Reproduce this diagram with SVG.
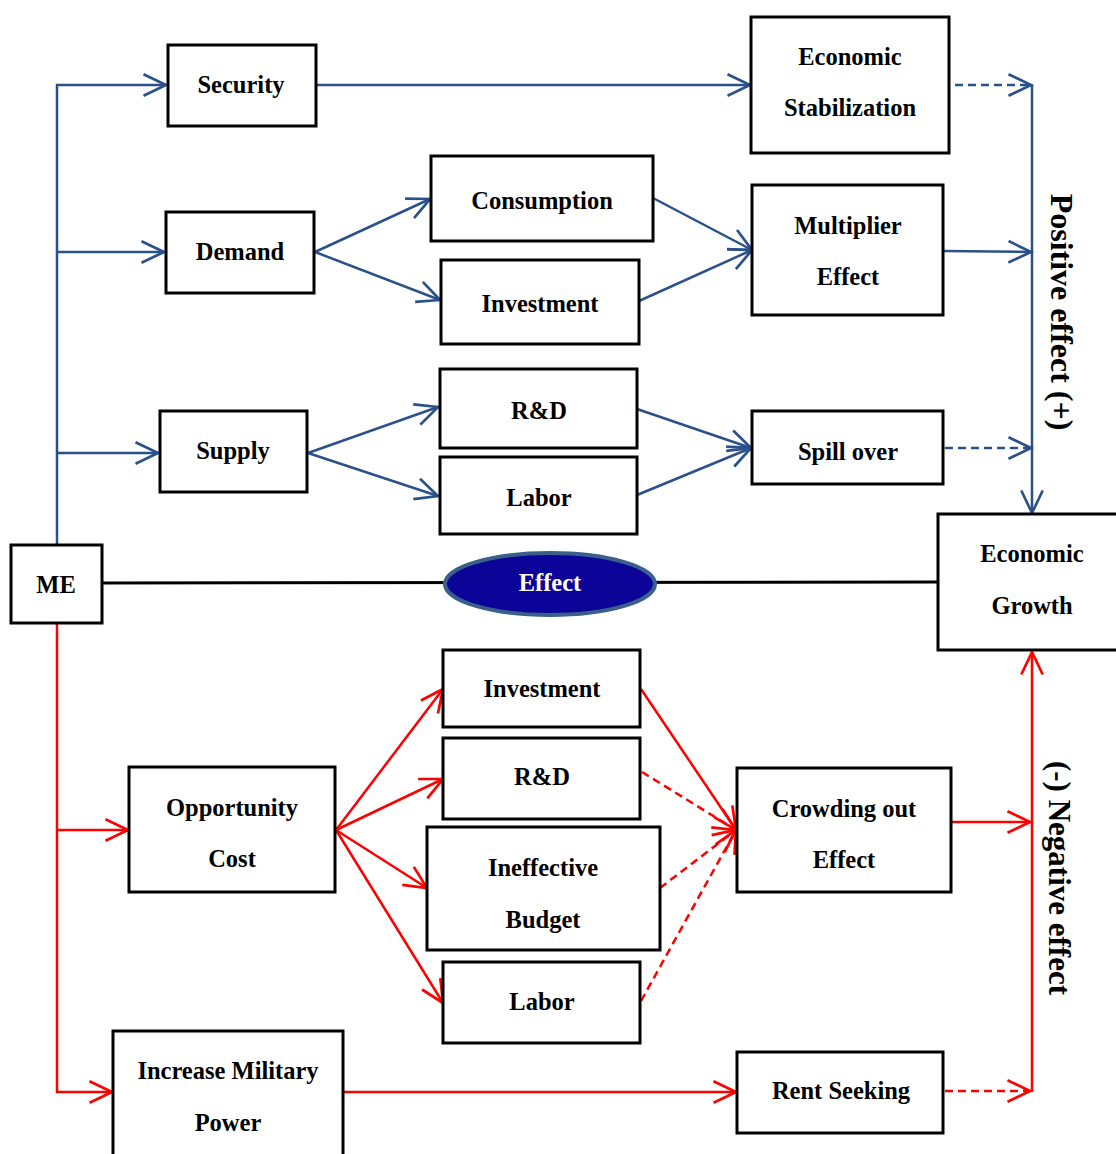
<svg xmlns="http://www.w3.org/2000/svg" width="1116" height="1154" viewBox="0 0 1116 1154">
<defs>
<style>
.box{fill:#fff;stroke:#000;stroke-width:3}
.t{font-family:"Liberation Serif","Times New Roman",serif;font-weight:bold;font-size:24.5px;text-anchor:middle;fill:#000}
.b{fill:none;stroke:#2a5189;stroke-width:2.5}
.r{fill:none;stroke:#ff0000;stroke-width:2.5}
.d{stroke-dasharray:8 5}
.side{font-family:"Liberation Serif","Times New Roman",serif;font-weight:bold;text-anchor:middle;fill:#000}
</style>
<marker id="ab" markerUnits="userSpaceOnUse" orient="auto" refX="0" refY="0" markerWidth="30" markerHeight="30" viewBox="-24 -12 28 24" overflow="visible">
<path d="M-21,-10 L0,0 L-21,10" fill="none" stroke="#2a5189" stroke-width="2.5"/>
</marker>
<marker id="ar" markerUnits="userSpaceOnUse" orient="auto" refX="0" refY="0" markerWidth="30" markerHeight="30" viewBox="-24 -12 28 24" overflow="visible">
<path d="M-21,-10 L0,0 L-21,10" fill="none" stroke="#ff0000" stroke-width="2.5"/>
</marker>
</defs>
<rect width="1116" height="1154" fill="#fff"/>

<g id="connectors">
<polyline class="b" points="57,545 57,85 166,85" marker-end="url(#ab)"/>
<line class="b" x1="57" y1="252" x2="164" y2="252" marker-end="url(#ab)"/>
<line class="b" x1="57" y1="453" x2="158" y2="453" marker-end="url(#ab)"/>
<line class="b" x1="316" y1="85" x2="750" y2="85" marker-end="url(#ab)"/>
<line class="b" x1="315" y1="252" x2="430" y2="199" marker-end="url(#ab)"/>
<line class="b" x1="315" y1="252" x2="440" y2="300" marker-end="url(#ab)"/>
<line class="b" x1="653" y1="198" x2="752" y2="250" marker-end="url(#ab)"/>
<line class="b" x1="639" y1="301" x2="752" y2="250" marker-end="url(#ab)"/>
<line class="b" x1="308" y1="453" x2="438" y2="407" marker-end="url(#ab)"/>
<line class="b" x1="308" y1="453" x2="438" y2="496" marker-end="url(#ab)"/>
<line class="b" x1="637" y1="409" x2="751" y2="448" marker-end="url(#ab)"/>
<line class="b" x1="637" y1="495" x2="751" y2="448" marker-end="url(#ab)"/>
<line class="b d" x1="955" y1="85" x2="1031" y2="85" marker-end="url(#ab)"/>
<line class="b" x1="943" y1="251" x2="1031" y2="252" marker-end="url(#ab)"/>
<line class="b d" x1="945" y1="448" x2="1031" y2="448" marker-end="url(#ab)"/>
<line class="b" x1="1032" y1="85" x2="1032" y2="513" marker-end="url(#ab)"/>
<line x1="102" y1="583" x2="938" y2="582" stroke="#000" stroke-width="3"/>
<polyline class="r" points="57,623 57,1092 112,1092" marker-end="url(#ar)"/>
<line class="r" x1="57" y1="830" x2="128" y2="830" marker-end="url(#ar)"/>
<line class="r" x1="336" y1="830" x2="443" y2="689" marker-end="url(#ar)"/>
<line class="r" x1="336" y1="830" x2="443" y2="779" marker-end="url(#ar)"/>
<line class="r" x1="336" y1="830" x2="427" y2="888" marker-end="url(#ar)"/>
<line class="r" x1="336" y1="830" x2="443" y2="1003" marker-end="url(#ar)"/>
<line class="r" x1="641" y1="689" x2="736" y2="830" marker-end="url(#ar)"/>
<line class="r d" x1="642" y1="772" x2="736" y2="830" marker-end="url(#ar)"/>
<line class="r d" x1="660" y1="888" x2="736" y2="830" marker-end="url(#ar)"/>
<line class="r d" x1="641" y1="1001" x2="736" y2="830" marker-end="url(#ar)"/>
<line class="r" x1="951" y1="822" x2="1030" y2="822" marker-end="url(#ar)"/>
<line class="r" x1="343" y1="1092" x2="736" y2="1092" marker-end="url(#ar)"/>
<line class="r d" x1="945" y1="1091" x2="1030" y2="1091" marker-end="url(#ar)"/>
<line class="r" x1="1032" y1="1092" x2="1032" y2="652" marker-end="url(#ar)"/>
</g>

<g id="security"><rect class="box" x="168" y="45" width="148" height="81"/><text class="t" x="241" y="93">Security</text></g>
<g id="econ-stab"><rect class="box" x="751" y="17" width="198" height="136"/><text class="t" x="850" y="65">Economic</text><text class="t" x="850" y="116">Stabilization</text></g>
<g id="consumption"><rect class="box" x="431" y="156" width="222" height="85"/><text class="t" x="542" y="209">Consumption</text></g>
<g id="demand"><rect class="box" x="166" y="212" width="148" height="81"/><text class="t" x="240" y="260">Demand</text></g>
<g id="investment-top"><rect class="box" x="441" y="260" width="198" height="84"/><text class="t" x="540" y="312">Investment</text></g>
<g id="multiplier"><rect class="box" x="752" y="185" width="191" height="130"/><text class="t" x="848" y="234">Multiplier</text><text class="t" x="848" y="285">Effect</text></g>
<g id="rd-top"><rect class="box" x="440" y="369" width="197" height="79"/><text class="t" x="539" y="419">R&amp;D</text></g>
<g id="supply"><rect class="box" x="160" y="411" width="147" height="81"/><text class="t" x="233" y="459">Supply</text></g>
<g id="spillover"><rect class="box" x="752" y="411" width="191" height="73"/><text class="t" x="848" y="460">Spill over</text></g>
<g id="labor-top"><rect class="box" x="440" y="457" width="197" height="77"/><text class="t" x="539" y="506">Labor</text></g>
<g id="me"><rect class="box" x="11" y="545" width="91" height="78"/><text class="t" x="56" y="593">ME</text></g>
<g id="effect"><ellipse cx="550" cy="584" rx="105" ry="31" fill="#0c0399" stroke="#3a5f8a" stroke-width="4"/><text class="t" x="550" y="591" style="fill:#fff">Effect</text></g>
<g id="econ-growth"><rect class="box" x="938" y="514" width="180" height="136"/><text class="t" x="1032" y="562">Economic</text><text class="t" x="1032" y="614">Growth</text></g>
<g id="investment-bot"><rect class="box" x="443" y="650" width="197" height="77"/><text class="t" x="542" y="697">Investment</text></g>
<g id="rd-bot"><rect class="box" x="443" y="738" width="197" height="81"/><text class="t" x="542" y="785">R&amp;D</text></g>
<g id="opp-cost"><rect class="box" x="129" y="767" width="206" height="125"/><text class="t" x="232" y="816">Opportunity</text><text class="t" x="232" y="867">Cost</text></g>
<g id="crowding"><rect class="box" x="737" y="768" width="214" height="124"/><text class="t" x="844" y="817">Crowding out</text><text class="t" x="844" y="868">Effect</text></g>
<g id="ineffective"><rect class="box" x="427" y="827" width="233" height="123"/><text class="t" x="543" y="876">Ineffective</text><text class="t" x="543" y="928">Budget</text></g>
<g id="labor-bot"><rect class="box" x="443" y="962" width="197" height="81"/><text class="t" x="542" y="1010">Labor</text></g>
<g id="military"><rect class="box" x="113" y="1031" width="230" height="130"/><text class="t" x="228" y="1079">Increase Military</text><text class="t" x="228" y="1131">Power</text></g>
<g id="rent"><rect class="box" x="737" y="1052" width="206" height="81"/><text class="t" x="841" y="1099">Rent Seeking</text></g>

<g id="labels">
<text class="side" font-size="32" transform="translate(1051,312) rotate(90)">Positive effect (+)</text>
<text class="side" font-size="31" transform="translate(1049,878) rotate(90)">(-) Negative effect</text>
</g>
</svg>
